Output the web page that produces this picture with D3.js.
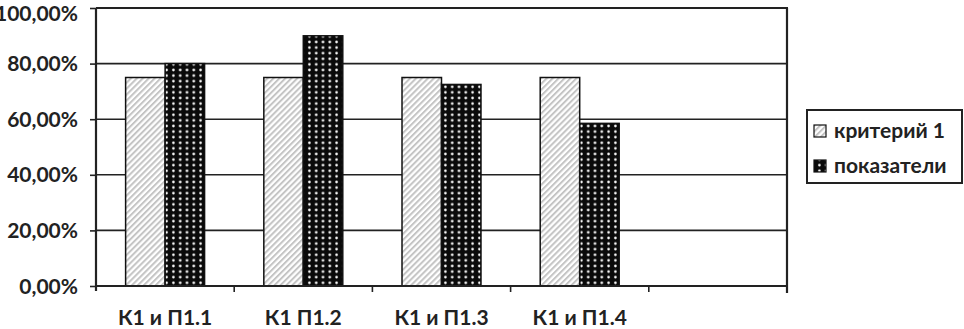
<!DOCTYPE html>
<html>
<head>
<meta charset="utf-8">
<script src="https://cdn.jsdelivr.net/npm/d3@7"></script>
<style>
  html, body { margin: 0; padding: 0; background: #fff; }
  svg { display: block; }
  text { font-family: Lato, "Noto Sans", sans-serif; font-weight: bold; fill: #222; }
</style>
</head>
<body>
<svg id="chart" width="964" height="329"></svg>
<script>
const categories = ["К1 и П1.1", "К1 П1.2", "К1 и П1.3", "К1 и П1.4", ""];
const seriesNames = ["критерий 1", "показатели"];
const criterion = [75, 75, 75, 75, null];
const indicators = [80, 90, 72.5, 58.5, null];
const yTicks = [0, 20, 40, 60, 80, 100];
const yTickLabels = ["0,00%", "20,00%", "40,00%", "60,00%", "80,00%", "100,00%"];

const svg = d3.select("#chart");
const mLeft = 96, mRight = 787, mTop = 8, mBottom = 286;
const fs = 21;

const defs = svg.append("defs");
const hatch = defs.append("pattern").attr("id", "hatch").attr("patternUnits", "userSpaceOnUse")
  .attr("width", 4.2).attr("height", 4.2).attr("patternTransform", "rotate(45)");
hatch.append("rect").attr("width", 4.2).attr("height", 4.2).attr("fill", "#fff");
hatch.append("rect").attr("x", 0).attr("width", 2).attr("height", 4.2).attr("fill", "#c4c4c4");

const dots = defs.append("pattern").attr("id", "dots").attr("patternUnits", "userSpaceOnUse")
  .attr("width", 6.8).attr("height", 5.6);
dots.append("rect").attr("width", 6.8).attr("height", 5.6).attr("fill", "#0a0a0a");
dots.append("circle").attr("cx", 3.4).attr("cy", 2.8).attr("r", 1.3).attr("fill", "#fff");

const x = d3.scaleBand().domain(d3.range(categories.length)).range([mLeft, mRight]);
const y = d3.scaleLinear().domain([0, 100]).range([mBottom, mTop]);

// gridlines
svg.append("g").selectAll("line").data(yTicks.filter(t => t > 0 && t < 100)).join("line")
  .attr("x1", mLeft).attr("x2", mRight).attr("y1", d => y(d)).attr("y2", d => y(d))
  .attr("stroke", "#222").attr("stroke-width", 1.6);

// plot border top and right
svg.append("line").attr("x1", mLeft).attr("x2", mRight + 1).attr("y1", y(100)).attr("y2", y(100))
  .attr("stroke", "#222").attr("stroke-width", 2.2);
svg.append("line").attr("x1", mRight).attr("x2", mRight).attr("y1", y(100)).attr("y2", mBottom + 7)
  .attr("stroke", "#222").attr("stroke-width", 2.2);

// bars
const bw = x.bandwidth() / 3.5;
const fills = ["url(#hatch)", "url(#dots)"];
[criterion, indicators].forEach((vals, si) => {
  svg.append("g").selectAll("rect").data(vals.map((v, i) => ({ v, i })).filter(d => d.v != null)).join("rect")
    .attr("x", d => x(d.i) + x.bandwidth() / 2 - bw + si * bw)
    .attr("width", bw)
    .attr("y", d => y(d.v))
    .attr("height", d => y(0) - y(d.v))
    .attr("fill", fills[si])
    .attr("stroke", "#111").attr("stroke-width", 1.5);
});

// y axis
const yAxis = d3.axisLeft(y).tickValues(yTicks).tickSize(6).tickPadding(12)
  .tickFormat((d, i) => yTickLabels[i]);
const gy = svg.append("g").attr("transform", `translate(${mLeft},0)`).call(yAxis);
gy.select(".domain").attr("stroke", "#222").attr("stroke-width", 2.2).attr("d", `M0,${mTop}V${mBottom + 5}`);
gy.selectAll(".tick line").attr("stroke", "#222").attr("stroke-width", 1.6);
gy.selectAll("text").attr("font-size", fs).attr("font-family", "Lato").attr("font-weight", "bold").attr("fill", "#222")
  .attr("dy", "0.34em");
gy.selectAll(".tick").filter(d => d === 100).select("text").attr("dy", "0.58em");

// x axis
const xAxis = d3.axisBottom(x).tickSize(0).tickFormat((d) => categories[d]);
const gx = svg.append("g").attr("transform", `translate(0,${mBottom})`).call(xAxis);
gx.select(".domain").attr("stroke", "#222").attr("stroke-width", 2.2).attr("d", `M${mLeft},0H${mRight}`);
gx.selectAll("text").attr("font-size", fs).attr("font-family", "Lato").attr("font-weight", "bold").attr("fill", "#222")
  .attr("dy", "0").attr("y", 39);
// category boundary ticks
svg.append("g").selectAll("line").data(d3.range(1, categories.length)).join("line")
  .attr("x1", d => x(d)).attr("x2", d => x(d)).attr("y1", mBottom).attr("y2", mBottom + 6)
  .attr("stroke", "#222").attr("stroke-width", 1.6);

// legend
const lg = svg.append("g");
lg.append("rect").attr("x", 807).attr("y", 110).attr("width", 155).attr("height", 73)
  .attr("fill", "#fff").attr("stroke", "#222").attr("stroke-width", 2);
seriesNames.forEach((n, i) => {
  const cy = 131 + i * 35;
  lg.append("rect").attr("x", 814).attr("y", cy - 6).attr("width", 12).attr("height", 12)
    .attr("fill", fills[i]).attr("stroke", "#111").attr("stroke-width", 1.2);
  lg.append("text").attr("x", 834).attr("y", cy).attr("dy", "0.35em").attr("font-size", fs).text(n);
});
</script>
</body>
</html>
